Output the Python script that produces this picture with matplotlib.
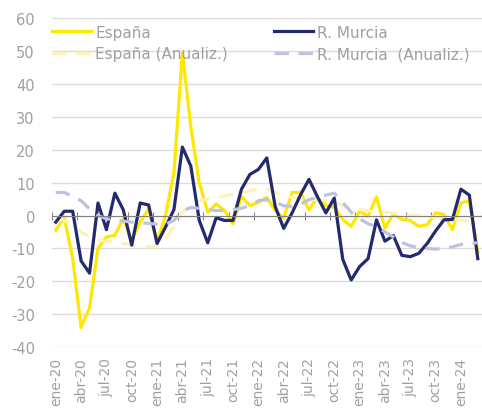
import matplotlib

matplotlib.use("Agg")

import matplotlib.pyplot as plt

plt.rcParams["axes.unicode_minus"] = False

meses = ["ene", "feb", "mar", "abr", "may", "jun", "jul", "ago", "sep", "oct", "nov", "dic"]
fechas = [f"{m}-{a}" for a in range(20, 25) for m in meses][:51]

espana = [-4.5, -0.5, -13, -34, -28, -10, -6.5, -6, -1, -7.5, -2, 2, -8, 0, 13,
          49.5, 27, 10, 1, 3.5, 1.5, -2.5, 5.8, 3, 4, 5.5, 1.5, -0.8, 7, 7, 1.7,
          5.5, 3, 2.5, -1.2, -3.3, 1.3, -0.2, 5.7, -3.8, 0.5, -1.2, -1.5, -3.3,
          -2.8, 0.8, 0.3, -4.3, 3.9, 4.4, -11]
murcia = [-2, 1.3, 1.3, -13.8, -17.5, 3.8, -4.3, 6.8, 1.7, -9, 3.8, 3.2, -8.5,
          -3.5, 1.8, 20.8, 15, -1.5, -8.3, -0.7, -1.5, -1.5, 8, 12.5, 14, 17.5,
          2.7, -3.9, 0.8, 6.3, 11, 5.7, 0.8, 5.3, -13.3, -19.6, -15.5, -13.1,
          -1.3, -7.8, -6.1, -12.1, -12.5, -11.5, -8.5, -4.7, -1.3, -1.2, 8, 6.2,
          -13.1]
espana_anual = [-0.5, -1.5, -3, -5, -6.5, -7.5, -7.8, -8.2, -8.5, -9, -9.3, -9.5,
                -9.5, -7, -3.5, 1, 3, 4.5, 5, 5.5, 6, 6.5, 7, 7.5, 8, 8, 7, 6, 5.5,
                5, 5, 4.8, 4.5, 4, 3, 2, 1.8, 1.5, 1.2, 1, 0.8, 0.5, 0.2, 0, -0.3,
                -0.5, -0.8, -1, -1.3, -1.8, -2.5]
murcia_anual = [7, 7, 5.8, 4.5, 2, 0, -1, -1.3, -1.7, -2, -2.2, -2.4, -2.6, -2.6,
                -1.5, 1.5, 2.4, 2.2, 1.8, 1.5, 1.5, 1.8, 2.2, 3, 4.5, 4.8, 4, 3,
                2.8, 3.5, 4.8, 5.5, 6.2, 6.8, 4, 1, -1, -2.5, -3.3, -5, -6.5, -8.2,
                -9.2, -9.8, -10, -10.2, -10, -9.5, -8.8, -8.3, -8.3]

GRIS = "#A0A0A0"
x = list(range(len(fechas)))

fig = plt.figure(figsize=(4.82, 4.14), dpi=100)
ax = fig.add_axes([0.107, 0.159, 0.893, 0.795])

dash = (0, (4.5, 3))
ax.plot(x, espana, color="#FFE800", linewidth=2.3, label="España")
ax.plot(x, espana_anual, color="#FFF1B8", linewidth=2.3, linestyle=dash,
        label="España (Anualiz.)")
ax.plot(x, murcia, color="#232A6E", linewidth=2.3, label="R. Murcia")
ax.plot(x, murcia_anual, color="#BEC2E0", linewidth=2.3, linestyle=dash,
        label="R. Murcia  (Anualiz.)")

ax.set_ylim(-40, 60)
ax.set_xlim(-0.5, len(fechas) - 0.5)
ax.set_yticks(range(-40, 61, 10))
ax.yaxis.grid(True, color="#DCDCDC", linewidth=1)
ax.set_axisbelow(True)
ax.tick_params(axis="y", length=0, pad=12, labelsize=10.5, labelcolor=GRIS)

for s in ["top", "right", "left"]:
    ax.spines[s].set_visible(False)
ax.spines["bottom"].set_position(("data", 0))
ax.spines["bottom"].set_color("#808080")
ax.set_xticks([i - 0.5 for i in range(0, len(fechas) + 1, 3)])
ax.set_xticklabels([])
ax.tick_params(axis="x", direction="inout", length=6, color="#808080")

sec = ax.secondary_xaxis("bottom")
sec.set_xticks(x[::3], fechas[::3], rotation=90)
sec.tick_params(length=0, pad=7, labelsize=10, labelcolor=GRIS)
sec.spines["bottom"].set_visible(False)

ax.legend(loc="upper left", bbox_to_anchor=(0.0, 0.98), ncol=2, frameon=False,
          fontsize=11, labelcolor=GRIS, handlelength=2.6, handletextpad=0.25,
          columnspacing=3.0, labelspacing=0.42, borderpad=0, borderaxespad=0)

fig.savefig("out.png", dpi=100)
plt.close(fig)
